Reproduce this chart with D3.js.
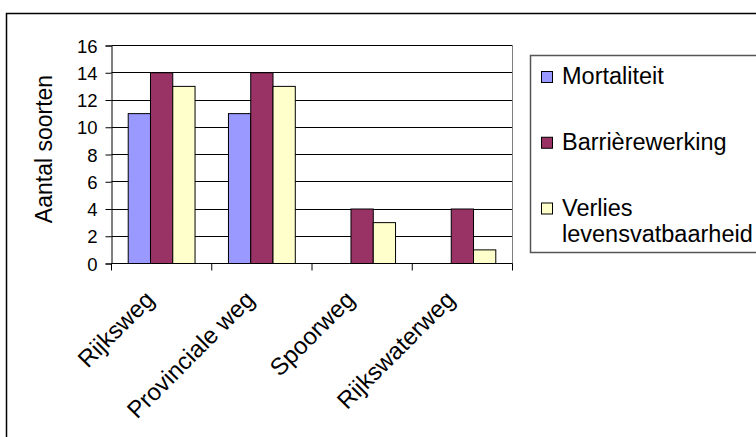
<!DOCTYPE html>
<html>
<head>
<meta charset="utf-8">
<script src="https://cdn.jsdelivr.net/npm/d3@7"></script>
<style>
  html, body { margin: 0; padding: 0; background: #fff; }
  svg { display: block; font-family: Arial, "Liberation Sans", sans-serif; }
</style>
</head>
<body>
<svg id="chart" width="756" height="437"></svg>
<script>
// Categories and series
const categories = ["Rijksweg", "Provinciale weg", "Spoorweg", "Rijkswaterweg"];
const seriesNames = ["Mortaliteit", "Barrièrewerking", "Verlies levensvatbaarheid"];
const mortaliteit = [11, 11, 0, 0];
const barrierewerking = [14, 14, 4, 4];
const verliesLevensvatbaarheid = [13, 13, 3, 1];
const yTicks = [0, 2, 4, 6, 8, 10, 12, 14, 16];
const seriesColors = ["#9999FF", "#993366", "#FFFFCC"];
const legendLines = [["Mortaliteit"], ["Barrièrewerking"], ["Verlies", "levensvatbaarheid"]];

const seriesValues = [mortaliteit, barrierewerking, verliesLevensvatbaarheid];

const svg = d3.select("#chart");

// Outer chart frame (right and bottom run past the canvas edge)
svg.append("rect")
  .attr("x", 6.5).attr("y", 13.5)
  .attr("width", 770).attr("height", 440)
  .attr("fill", "#fff")
  .attr("stroke", "#000").attr("stroke-width", 1.5);

const plot = { left: 111.5, right: 512.5, top: 45.5, bottom: 263.5 };

const x = d3.scaleBand().domain(categories).range([plot.left, plot.right]).padding(0);
const xs = d3.scaleBand().domain(seriesNames).range([0, x.bandwidth()])
  .paddingInner(0).paddingOuter(0.75);
const y = d3.scaleLinear().domain([0, 16]).range([plot.bottom, plot.top]);

// Horizontal gridlines
svg.append("g")
  .selectAll("line")
  .data(yTicks.filter(t => t > 0))
  .join("line")
  .attr("x1", plot.left).attr("x2", plot.right)
  .attr("y1", d => Math.round(y(d) - 0.5) + 0.5)
  .attr("y2", d => Math.round(y(d) - 0.5) + 0.5)
  .attr("stroke", "#000").attr("stroke-width", 1);

// Plot-area border on the right
svg.append("line")
  .attr("x1", plot.right).attr("x2", plot.right)
  .attr("y1", plot.top).attr("y2", plot.bottom)
  .attr("stroke", "#808080").attr("stroke-width", 1);

// Bars
const groups = svg.append("g")
  .selectAll("g")
  .data(categories)
  .join("g")
  .attr("transform", d => `translate(${x(d)},0)`);

groups.selectAll("rect")
  .data((c, i) => seriesNames.map((s, k) => ({ s, k, v: seriesValues[k][i] })))
  .join("rect")
  .filter(d => d.v > 0)
  .attr("x", d => xs(d.s))
  .attr("width", xs.bandwidth())
  .attr("y", d => y(d.v))
  .attr("height", d => y(0) - y(d.v))
  .attr("fill", d => seriesColors[d.k])
  .attr("stroke", "#000").attr("stroke-width", 1);

// Y axis
const yAxis = d3.axisLeft(y).tickValues(yTicks).tickSize(6).tickPadding(8);
const gy = svg.append("g")
  .attr("transform", `translate(${plot.left},0)`)
  .call(yAxis);
gy.select(".domain").attr("stroke", "#000");
gy.selectAll(".tick line").attr("stroke", "#000");
gy.selectAll(".tick text")
  .attr("font-size", 18.5)
  .attr("font-family", "Arial, 'Liberation Sans', sans-serif")
  .attr("fill", "#000")
  .attr("dy", "0.36em");

// X axis: ticks at category boundaries
svg.append("line")
  .attr("x1", plot.left).attr("x2", plot.right)
  .attr("y1", plot.bottom).attr("y2", plot.bottom)
  .attr("stroke", "#000");
const boundaries = categories.map(c => x(c)).concat([plot.right]);
svg.append("g")
  .selectAll("line")
  .data(boundaries)
  .join("line")
  .attr("x1", d => d).attr("x2", d => d)
  .attr("y1", plot.bottom).attr("y2", plot.bottom + 7)
  .attr("stroke", "#000");

// Rotated category labels
svg.append("g")
  .selectAll("text")
  .data(categories)
  .join("text")
  .attr("transform", d => `translate(${x(d) + x.bandwidth() / 2 - 6},301) rotate(-45)`)
  .attr("text-anchor", "end")
  .attr("font-size", 24)
  .attr("fill", "#000")
  .text(d => d);

// Y axis title
svg.append("text")
  .attr("transform", "translate(51.5,149) rotate(-90)")
  .attr("text-anchor", "middle")
  .attr("font-size", 23)
  .attr("fill", "#000")
  .text("Aantal soorten");

// Legend
svg.append("rect")
  .attr("x", 530.5).attr("y", 55.5)
  .attr("width", 260).attr("height", 197)
  .attr("fill", "#fff")
  .attr("stroke", "#555").attr("stroke-width", 1.5);

const legend = svg.append("g")
  .selectAll("g")
  .data(seriesNames)
  .join("g")
  .attr("transform", (d, i) => `translate(0,${84 + i * 65.75})`);

legend.append("rect")
  .attr("x", 541.5).attr("y", -12.5)
  .attr("width", 11).attr("height", 11)
  .attr("fill", (d, i) => seriesColors[i])
  .attr("stroke", "#000").attr("stroke-width", 1);

legend.append("text")
  .attr("font-size", 23.5)
  .attr("fill", "#000")
  .each(function (d, i) {
    d3.select(this).selectAll("tspan")
      .data(legendLines[i])
      .join("tspan")
      .attr("x", 562)
      .attr("dy", (t, j) => j === 0 ? 0 : 26.5)
      .text(t => t);
  });
</script>
</body>
</html>
